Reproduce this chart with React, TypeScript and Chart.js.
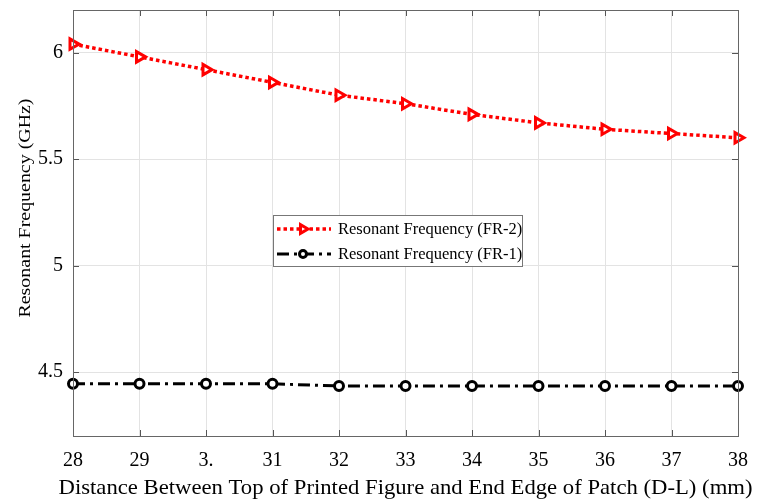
import React, { useEffect, useRef } from "react";
import { Chart, registerables } from "chart.js";

Chart.register(...registerables);

const categories = ["28", "29", "3.", "31", "32", "33", "34", "35", "36", "37", "38"];
const fr2 = [6.04, 5.98, 5.92, 5.86, 5.80, 5.76, 5.71, 5.67, 5.64, 5.62, 5.60];
const fr1 = [4.445, 4.445, 4.445, 4.445, 4.435, 4.435, 4.435, 4.435, 4.435, 4.435, 4.435];
const yTicks = [4.5, 5, 5.5, 6];
const seriesNames = ["Resonant Frequency (FR-2)", "Resonant Frequency (FR-1)"];
const xTitle = "Distance Between Top of Printed Figure and End Edge of Patch (D-L) (mm)";
const yTitle = "Resonant Frequency (GHz)";

const FONT = "'Liberation Serif', 'Times New Roman', serif";

function stretchedText(ctx: any, text: string, font: string, cx: number, cy: number, len: number, rot: number) {
  ctx.save();
  ctx.font = font;
  const w = ctx.measureText(text).width;
  ctx.translate(cx, cy);
  ctx.rotate(rot);
  ctx.scale(len / w, 1);
  ctx.fillStyle = "#000";
  ctx.textAlign = "center";
  ctx.textBaseline = "middle";
  ctx.fillText(text, 0, 0);
  ctx.restore();
}

const frame = {
  id: "frame",
  afterDraw(chart: any) {
    const { ctx, chartArea: a, scales } = chart;
    ctx.save();
    ctx.strokeStyle = "#555";
    ctx.lineWidth = 1;
    const t = 6;
    ctx.beginPath();
    scales.x.ticks.forEach((_: any, i: number) => {
      const x = Math.round(scales.x.getPixelForTick(i)) + 0.5;
      ctx.moveTo(x, a.bottom); ctx.lineTo(x, a.bottom - t);
      ctx.moveTo(x, a.top); ctx.lineTo(x, a.top + t);
    });
    scales.y.ticks.forEach((tk: any) => {
      const y = Math.round(scales.y.getPixelForValue(tk.value)) + 0.5;
      ctx.moveTo(a.left, y); ctx.lineTo(a.left + t, y);
      ctx.moveTo(a.right, y); ctx.lineTo(a.right - t, y);
    });
    ctx.stroke();
    ctx.strokeStyle = "#666";
    ctx.strokeRect(Math.round(a.left) + 0.5, Math.round(a.top) + 0.5, Math.round(a.right - a.left), Math.round(a.bottom - a.top));

    // axis titles
    stretchedText(ctx, xTitle, `22px ${FONT}`, (a.left + a.right) / 2, 488, 694, 0);
    stretchedText(ctx, yTitle, `17px ${FONT}`, 26, 208, 219, -Math.PI / 2);

    // legend
    const bx = 273, by = 215, bw = 249, bh = 51;
    ctx.fillStyle = "#fff";
    ctx.fillRect(bx, by, bw, bh);
    ctx.strokeStyle = "#777";
    ctx.lineWidth = 1;
    ctx.strokeRect(bx + 0.5, by + 0.5, bw, bh);
    const rows = [by + 14, by + 39];
    rows.forEach((ry, i) => {
      const ds = chart.data.datasets[i];
      ctx.save();
      ctx.strokeStyle = ds.borderColor;
      ctx.lineWidth = ds.borderWidth;
      ctx.setLineDash(ds.borderDash);
      ctx.beginPath();
      ctx.moveTo(bx + 4, ry);
      ctx.lineTo(bx + 58, ry);
      ctx.stroke();
      ctx.setLineDash([]);
      ctx.fillStyle = "#fff";
      ctx.lineWidth = ds.pointBorderWidth;
      ctx.beginPath();
      const cx = bx + 30;
      if (i === 0) {
        const s = 5;
        ctx.moveTo(cx + s, ry);
        ctx.lineTo(cx - s * 0.5, ry - s * 0.87);
        ctx.lineTo(cx - s * 0.5, ry + s * 0.87);
        ctx.closePath();
      } else {
        ctx.arc(cx, ry, 3.5, 0, Math.PI * 2);
      }
      ctx.fill();
      ctx.stroke();
      ctx.restore();
      ctx.fillStyle = "#000";
      ctx.font = `16.5px ${FONT}`;
      ctx.textBaseline = "middle";
      ctx.textAlign = "left";
      ctx.fillText(seriesNames[i], bx + 65, ry + 1);
    });
    ctx.restore();
  },
};

export default function App() {
  const ref = useRef<HTMLCanvasElement>(null);
  useEffect(() => {
    document.body.style.margin = "0";
    const chart = new Chart(ref.current!, {
      type: "line",
      data: {
        labels: categories,
        datasets: [
          {
            label: seriesNames[0],
            data: fr2,
            borderColor: "#ff0000",
            borderWidth: 3.5,
            borderDash: [3.5, 3],
            pointStyle: "triangle",
            rotation: 90,
            pointRadius: 6,
            pointBorderWidth: 3,
            pointBackgroundColor: "#fff",
            pointBorderColor: "#ff0000",
          } as any,
          {
            label: seriesNames[1],
            data: fr1,
            borderColor: "#000000",
            borderWidth: 3,
            borderDash: [12, 5, 3, 5],
            pointStyle: "circle",
            pointRadius: 4.5,
            pointBorderWidth: 3,
            pointBackgroundColor: "#fff",
            pointBorderColor: "#000",
          } as any,
        ],
      },
      options: {
        animation: false,
        responsive: false,
        layout: { padding: { top: 10, right: 21, left: 0, bottom: 0 } },
        plugins: { legend: { display: false }, tooltip: { enabled: false } },
        scales: {
          x: {
            type: "category",
            offset: false,
            grid: { color: "#e3e3e3", drawTicks: false },
            border: { display: false },
            ticks: { color: "#000", font: { family: FONT, size: 20 }, padding: 13, maxRotation: 0, autoSkip: false },
            title: { display: false },
            afterFit(s: any) { s.height = 65; s.paddingLeft = 0; s.paddingRight = 0; },
          },
          y: {
            min: 4.2,
            max: 6.2,
            grid: { color: "#e3e3e3", drawTicks: false },
            border: { display: false },
            afterBuildTicks(s: any) { s.ticks = yTicks.map((v) => ({ value: v })); },
            ticks: { color: "#000", font: { family: FONT, size: 20 }, padding: 10, callback: (v: any) => String(v) },
            title: { display: false },
            afterFit(s: any) { s.width = 73; s.paddingTop = 0; s.paddingBottom = 0; },
          },
        },
      },
      plugins: [frame],
    });
    return () => chart.destroy();
  }, []);
  return (
    <div style={{ width: 759, height: 501, background: "#fff" }}>
      <canvas ref={ref} width={759} height={501} style={{ display: "block" }} />
    </div>
  );
}
